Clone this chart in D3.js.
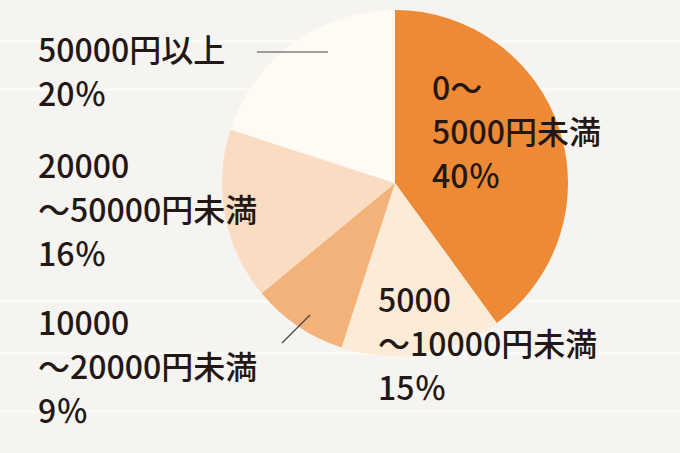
<!DOCTYPE html>
<html><head><meta charset="utf-8">
<script src="https://cdn.jsdelivr.net/npm/d3@7"></script>
<style>body{margin:0;background:#f6f4f1}</style></head>
<body><svg id="c" width="680" height="453"></svg>
<script>
const categories=["0～5000円未満","5000～10000円未満","10000～20000円未満","20000～50000円未満","50000円以上"];
const values=[40,15,9,16,20];
const colors=["#ee8a35","#fcebd6","#f3b27a","#f9dcc2","#fffaf3"];
const labels=[
 {x:432,y:100,lines:["0～","5000円未満","40％"]},
 {x:378,y:312,lines:["5000","～10000円未満","15％"]},
 {x:38,y:335,lines:["10000","～20000円未満","9％"]},
 {x:38,y:178,lines:["20000","～50000円未満","16％"]},
 {x:38,y:62,lines:["50000円以上","20％"]}
];
const svg=d3.select("#c");
[40,88,300,352,410].forEach(y=>svg.append("rect").attr("x",0).attr("y",y).attr("width",680).attr("height",3).attr("fill","#fbfaf8"));
const g=svg.append("g").attr("transform","translate(395,183)");
const pie=d3.pie().sort(null).value(d=>d);
const arc=d3.arc().innerRadius(0).outerRadius(173);
g.selectAll("path").data(pie(values)).join("path").attr("d",arc).attr("fill",(d,i)=>colors[i]);
svg.append("line").attr("x1",257).attr("y1",52).attr("x2",328).attr("y2",52).attr("stroke","#444").attr("stroke-width",1.2);
svg.append("line").attr("x1",282).attr("y1",343).attr("x2",310).attr("y2",315).attr("stroke","#444").attr("stroke-width",1.2);
labels.forEach(l=>{
 const t=svg.append("text").attr("x",l.x).attr("y",l.y).attr("fill","#231815")
  .style("font-family","'Noto Sans CJK JP',sans-serif").style("font-size","32px").style("font-weight","500");
 l.lines.forEach((s,i)=>t.append("tspan").attr("x",l.x).attr("y",l.y+i*44).text(s));
});
</script></body></html>
